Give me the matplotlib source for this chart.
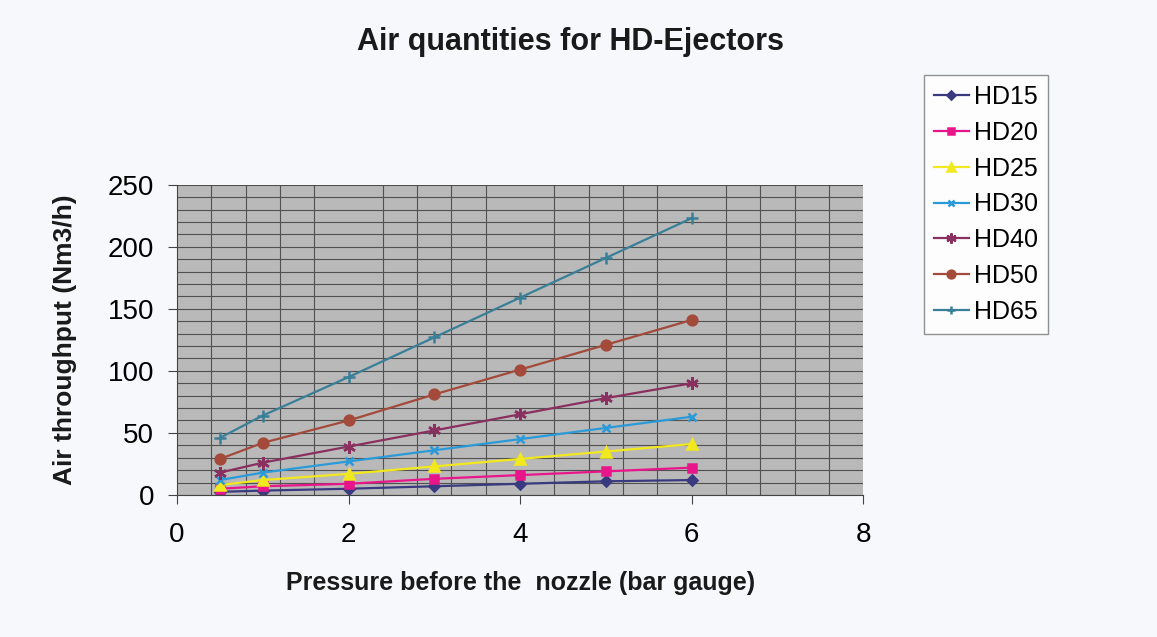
import numpy as np
import matplotlib
matplotlib.use('Agg')
import matplotlib.pyplot as plt
from matplotlib.ticker import MultipleLocator

plt.rcParams['font.family'] = ['Liberation Sans', 'DejaVu Sans']

# pressure before the nozzle (bar gauge)
pressure = [0.5, 1, 2, 3, 4, 5, 6]

# air throughput (Nm3/h) per ejector size
hd15 = [2.5, 3.5, 5, 7, 9, 11, 12]
hd20 = [5, 7, 9, 13, 16, 19, 22]
hd25 = [8, 12, 17, 23, 29, 35, 41]
hd30 = [12, 18, 27, 36, 45, 54, 63]
hd40 = [18, 26, 39, 52, 65, 78, 90]
hd50 = [29, 42, 60, 81, 101, 121, 141]
hd65 = [46, 64, 95, 127, 159, 191, 223]

names = ['HD15', 'HD20', 'HD25', 'HD30', 'HD40', 'HD50', 'HD65']
series = [hd15, hd20, hd25, hd30, hd40, hd50, hd65]
colors = ['#3a3a80', '#e8168a', '#f2e81e', '#2a9ad8', '#8a3060', '#a44a3a', '#3a7f98']
markers = ['D', 's', '^', 'x', (6, 2, 0), 'o', '+']
msizes = [5, 6, 7, 6, 9, 7, 8]

fig = plt.figure(figsize=(11.57, 6.37), dpi=100)
fig.patch.set_facecolor('#f7f8fb')
ax = fig.add_axes([0.153, 0.223, 0.593, 0.487])
ax.set_facecolor('#b9b9b9')

for name, ys, c, m, ms in zip(names, series, colors, markers, msizes):
    ax.plot(pressure, ys, color=c, marker=m, markersize=ms, lw=1.6,
            markeredgewidth=1.8, label=name)

ax.set_xlim(0, 8)
ax.set_ylim(0, 250)
ax.xaxis.set_major_locator(MultipleLocator(2))
ax.yaxis.set_major_locator(MultipleLocator(50))
ax.xaxis.set_minor_locator(MultipleLocator(0.4))
ax.yaxis.set_minor_locator(MultipleLocator(10))
ax.grid(which='minor', color='#505050', lw=0.8)
ax.grid(which='major', axis='y', color='#505050', lw=0.8)
ax.set_axisbelow(True)
ax.tick_params(which='minor', length=0)
ax.tick_params(which='major', labelsize=20, length=6.5, color='#444444')
ax.tick_params(axis='x', pad=13)
ax.tick_params(axis='y', pad=10)

for s in ['top', 'right']:
    ax.spines[s].set_visible(False)
ax.spines['left'].set_color('#444444')
ax.spines['bottom'].set_color('#444444')

ax.set_xlabel('Pressure before the  nozzle (bar gauge)', fontsize=18,
              fontweight='bold', va='center', color='#1a1a1a')
ax.xaxis.set_label_coords(0.501, -0.284)
ax.set_ylabel('Air throughput (Nm3/h)', fontsize=19, fontweight='bold',
              va='center', color='#1a1a1a')
ax.yaxis.set_label_coords(-0.163, 0.5)
fig.text(0.493, 0.934, 'Air quantities for HD-Ejectors', fontsize=22,
         fontweight='bold', ha='center', va='center', color='#1a1a1a')

leg = fig.legend(loc='upper left', bbox_to_anchor=(0.7986, 0.882), fontsize=18,
                 frameon=True, fancybox=False, edgecolor='#777777',
                 handlelength=1.4, handletextpad=0.2, labelspacing=0.47,
                 borderpad=0.4, borderaxespad=0, markerscale=0.8)
leg.get_frame().set_facecolor('white')

fig.savefig('out.png', dpi=100, facecolor=fig.get_facecolor())
